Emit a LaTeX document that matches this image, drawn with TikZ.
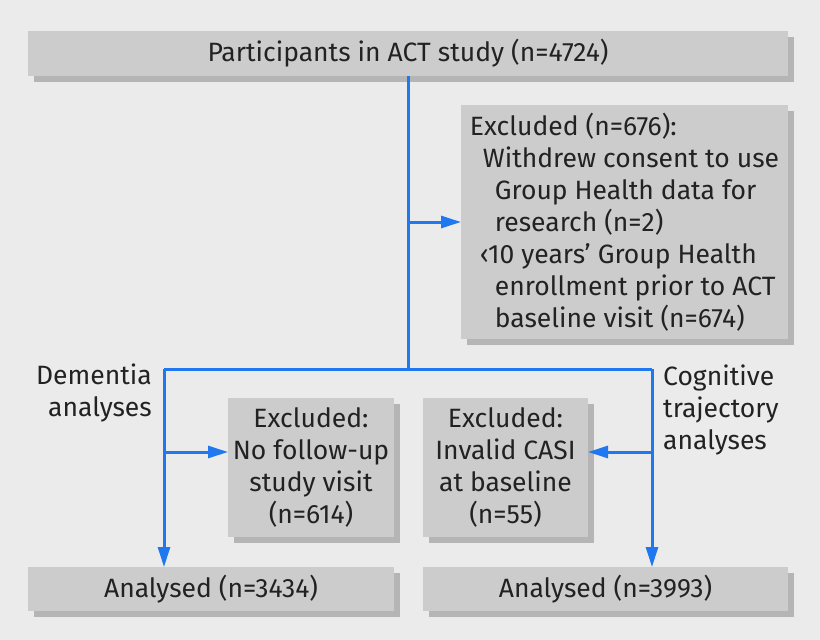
\documentclass[tikz,border=0pt]{standalone}
\usepackage{fontspec}
\setmainfont{Fira Sans}
\usetikzlibrary{arrows.meta, positioning, shadows}
\definecolor{bmj-bg}{HTML}{EBEBEB}
\definecolor{bmj-box}{HTML}{CCCCCC}
\definecolor{bmj-shadow}{HTML}{B5B5B5}
\definecolor{bmj-blue}{HTML}{1F78F0}
\definecolor{bmj-text}{HTML}{222222}

\begin{document}
\begin{tikzpicture}[x=1pt, y=-1pt,
    box/.style={fill=bmj-box, text=bmj-text, inner sep=0pt, outer sep=0pt, align=center, font=\fontsize{26.5}{32}\selectfont, drop shadow={shadow xshift=6pt, shadow yshift=-6pt, fill=bmj-shadow, opacity=1}},
    lbl/.style={text=bmj-text, inner sep=0pt, font=\fontsize{26.5}{32}\selectfont},
    line/.style={draw=bmj-blue, line width=3pt},
    arrow/.style={line, -{Triangle[length=20pt, width=12pt]}}
]
    \fill[bmj-bg] (0,0) rectangle (820,640);
    \useasboundingbox (0,0) rectangle (820,640);

    \node (top) [box, minimum width=760pt, minimum height=45pt] at (408,53.5) {Participants in ACT study (n=4724)};
    \node (excl1) [box, minimum width=327pt, minimum height=234pt, align=left] at (624.5,222) {Excluded (n=676):\\
        \hspace*{13pt}Withdrew consent to use\\
        \hspace*{25pt}Group Health data for\\
        \hspace*{25pt}research (n=2)\\
        \hspace*{10pt}‹10 years’ Group Health\\
        \hspace*{25pt}enrollment prior to ACT\\
        \hspace*{25pt}baseline visit (n=674)};
    \node (exclL) [box, minimum width=166pt, minimum height=139pt] at (311,467.5) {Excluded:\\No follow-up\\study visit\\(n=614)};
    \node (exclR) [box, minimum width=165pt, minimum height=139pt, right=29pt of exclL] {Excluded:\\Invalid CASI\\at baseline\\(n=55)};
    \node (anL) [box, minimum width=366pt, minimum height=44pt] at (211,589) {Analysed (n=3434)};
    \node (anR) [box, minimum width=365pt, minimum height=44pt, right=29pt of anL] {Analysed (n=3993)};

    \node (dem) [lbl, align=right, anchor=east] at (152,393) {Dementia\\analyses};
    \node (cog) [lbl, align=left, anchor=west] at (663,410) {Cognitive\\trajectory\\analyses};

    \coordinate (split) at (408,369);
    \coordinate (demsplit) at (164,369);
    \coordinate (cogsplit) at (652,369);

    \draw [line] (top) -- (split);
    \draw [arrow] (excl1.west -| split) -- (excl1.west);
    \draw [line] (demsplit) -- (cogsplit);
    \draw [arrow] (demsplit) -- (demsplit |- anL.north);
    \draw [arrow] (cogsplit) -- (cogsplit |- anR.north);
    \draw [arrow] ([yshift=15.5pt]exclL.west -| demsplit) -- ([yshift=15.5pt]exclL.west);
    \draw [arrow] ([yshift=15.5pt]exclR.east -| cogsplit) -- ([yshift=15.5pt]exclR.east);
\end{tikzpicture}
\end{document}
